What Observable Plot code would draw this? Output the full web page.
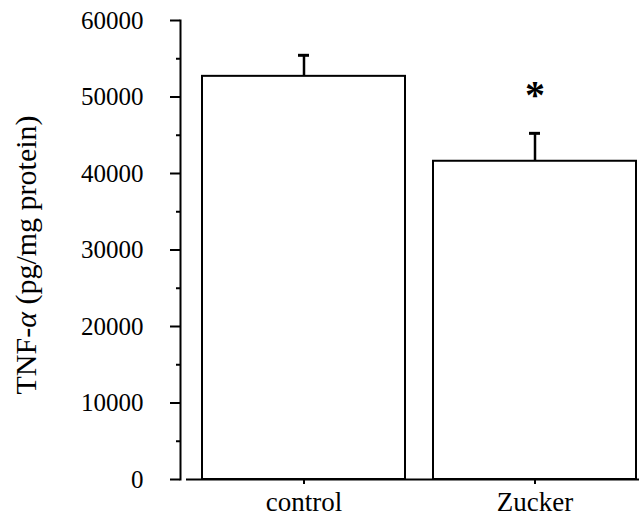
<!DOCTYPE html>
<html>
<head>
<meta charset="utf-8">
<script src="https://cdn.jsdelivr.net/npm/d3@7"></script>
<script src="https://cdn.jsdelivr.net/npm/@observablehq/plot@0.6"></script>
<style>
  body { margin: 0; background: #fff; }
  #chart svg { font-family: "Liberation Serif", "DejaVu Serif", serif; }
</style>
</head>
<body>
<div id="chart"></div>
<script>
// Data
const groups = ["control", "Zucker"];
const means = [52700, 41600];
const errors = [2750, 3650];
const significant = ["", "*"];
const majorTicks = [0, 10000, 20000, 30000, 40000, 50000, 60000];
const minorTicks = [5000, 15000, 25000, 35000, 45000, 55000];

const data = groups.map((g, i) => ({group: g, mean: means[i], err: errors[i], top: means[i] + errors[i], sig: significant[i]}));

const plot = Plot.plot({
  width: 639,
  height: 518,
  marginLeft: 180,
  marginRight: 0,
  marginTop: 20,
  marginBottom: 39,
  style: {fontFamily: "Liberation Serif, serif", background: "#fff", color: "#000"},
  x: {domain: groups, paddingInner: 0.12, paddingOuter: 0.05, align: 0.87, label: null},
  y: {domain: [0, 60000], label: null},
  marks: [
    Plot.frame({anchor: "left", stroke: "#000", strokeWidth: 2}),
    Plot.axisY({ticks: majorTicks, tickSize: 10, tickPadding: 27, tickFormat: d => String(d), fontSize: 25, strokeWidth: 2, label: null}),
    Plot.axisY({ticks: minorTicks, tickSize: 4, text: null, strokeWidth: 2, label: null}),
    Plot.axisX({tickSize: 5, tickPadding: 7, fontSize: 27, strokeWidth: 2, label: null}),
    Plot.ruleX(data, {x: "group", y1: "mean", y2: "top", stroke: "#000", strokeWidth: 2.5}),
    Plot.tickY(data, {x: "group", y: "top", stroke: "#000", strokeWidth: 3, insetLeft: 96, insetRight: 96}),
    Plot.barY(data, {x: "group", y: "mean", fill: "#fff", stroke: "#000", strokeWidth: 2}),
    Plot.ruleY([0], {stroke: "#000", strokeWidth: 2, insetLeft: 6}),
    Plot.text(data, {x: "group", y: "top", text: "sig", dy: -38, fontSize: 40, fontWeight: "bold", fill: "#000"})
  ]
});

document.getElementById("chart").appendChild(plot);

// Y-axis label with italic alpha
const svg = d3.select(plot);
const lab = svg.append("text")
  .attr("transform", "translate(25,255) rotate(-90)")
  .attr("text-anchor", "middle")
  .attr("dominant-baseline", "central")
  .attr("font-size", 30)
  .attr("font-family", "Liberation Serif, serif")
  .attr("fill", "#000");
lab.append("tspan").text("TNF-");
lab.append("tspan").attr("font-style", "italic").text("α");
lab.append("tspan").text(" (pg/mg protein)");
</script>
</body>
</html>
